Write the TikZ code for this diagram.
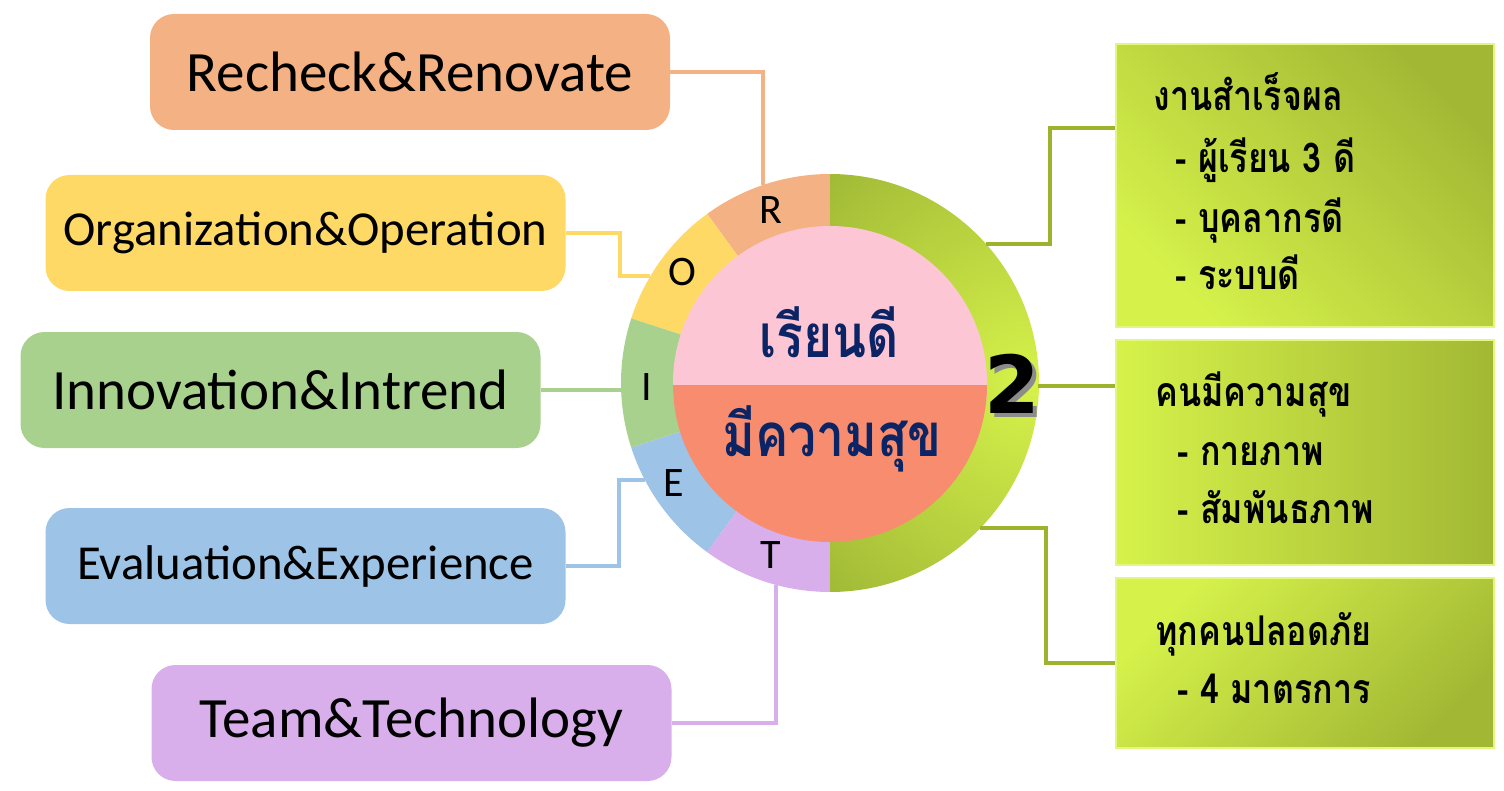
\documentclass[tikz,border=0pt]{standalone}
\usepackage{fontspec}
\usepackage{pdfrender}
\setmainfont{Carlito}
\newfontfamily\thai[Script=Thai, FakeStretch=0.83]{Loma}
\newfontfamily\numfont{DejaVu Sans}
\usetikzlibrary{calc}
\definecolor{cR}{HTML}{F4B183}
\definecolor{cO}{HTML}{FFD966}
\definecolor{cI}{HTML}{A9D18E}
\definecolor{cE}{HTML}{9DC3E6}
\definecolor{cT}{HTML}{D8AFEB}
\definecolor{cPink}{HTML}{FDC6D4}
\definecolor{cSalmon}{HTML}{F78D6E}
\definecolor{cNavy}{HTML}{0B2465}
\definecolor{cOlive}{HTML}{7B9129}
\definecolor{cLime}{HTML}{D6F24A}
\definecolor{cBoxOlive}{HTML}{A2B834}
\definecolor{cLine}{HTML}{9BB32D}
\begin{document}
\begin{tikzpicture}[x=0.5pt,y=-0.5pt,
  lbox/.style={rounded corners=12pt, minimum width=260pt, minimum height=58pt, inner sep=0pt, text=black},
  bigtxt/.style={font=\fontsize{28.5}{30}\selectfont},
  midtxt/.style={font=\fontsize{24.4}{26}\selectfont},
  ringletter/.style={font=\fontsize{21}{22}\selectfont, inner sep=0pt},
  rbox/.style={minimum width=189pt, inner sep=0pt, draw=cLime!70!white, line width=0.6pt},
  rtxt/.style={font=\thai\bfseries\fontsize{20.5}{22}\selectfont, anchor=base west, inner sep=0pt},
  ctxt/.style={font=\thai\bfseries\fontsize{30}{32}\selectfont, text=cNavy, inner sep=0pt},
  twofont/.style={font=\numfont\bfseries\fontsize{40}{42}\selectfont, inner sep=0pt},
  lconn/.style={line width=1.6pt},
  rconn/.style={draw=cLine, line width=1.7pt}
]
\useasboundingbox (0,0) rectangle (1504,791);
\coordinate (c) at (830,383);

% left boxes
\node[lbox, fill=cR, bigtxt] (bR) at (410,72) {Recheck\&Renovate};
\node[lbox, fill=cO, midtxt] (bO) at (305.5,233) {Organization\&Operation};
\node[lbox, fill=cI, bigtxt] (bI) at (280.5,390) {Innovation\&Intrend};
\node[lbox, fill=cE, midtxt] (bE) at (305.5,566) {Evaluation\&Experience};
\node[lbox, fill=cT, bigtxt] (bT) at (411.5,723) {Team\&Technology};

% ring segments (angles in flipped system)
\fill[cR] (c) -- ++(-90:209) arc[start angle=-90, end angle=-126, radius=209] -- cycle;
\fill[cO] (c) -- ++(-126:209) arc[start angle=-126, end angle=-162, radius=209] -- cycle;
\fill[cI] (c) -- ++(-162:209) arc[start angle=-162, end angle=-198, radius=209] -- cycle;
\fill[cE] (c) -- ++(-198:209) arc[start angle=-198, end angle=-234, radius=209] -- cycle;
\fill[cT] (c) -- ++(-234:209) arc[start angle=-234, end angle=-270, radius=209] -- cycle;
\begin{scope}
  \clip (c) -- ++(-90:209) arc[start angle=-90, end angle=90, radius=209] -- cycle;
  \shade[inner color=cLime, outer color=cOlive] (1030,383) circle (500);
\end{scope}

% inner circle
\fill[cPink] (c) circle (157);
\fill[cSalmon] ($(c)+(157,2)$) arc[start angle=0, end angle=180, radius=157] -- cycle;

% ring letters
\node[ringletter] (lR) at (771,210) {R};
\node[ringletter] (lO) at (682,272) {O};
\node[ringletter] (lI) at (647,387) {I};
\node[ringletter] (lE) at (674,483) {E};
\node[ringletter] (lT) at (771,555) {T};

% center text
\node[ctxt] (tTop) at (829,332) {เรียนดี};
\node[ctxt] (tBot) at (832,439) {มีความสุข};

% the "2" with shadow and white outline
\node[twofont, text=black!45] (n2s) at (1016,388) {2};
\node[twofont, text=black] (n2) at (1012,384) {\textpdfrender{TextRenderingMode=FillStroke, LineWidth=1.2pt, StrokeColor=white, FillColor=black}{2}};

% ring anchor points
\coordinate (rR) at (763,185);
\coordinate (rO) at (650,276);
\coordinate (rI) at (621,390);
\coordinate (rE) at (645,480);
\coordinate (rT) at (776,585);
\coordinate (rA) at (986,244);
\coordinate (rB) at (1038,386);
\coordinate (rC) at (980,528);

% left connectors
\draw[lconn, cR] (bR.east) -| (rR);
\draw[lconn, cO] (bO.east) -| ($(rO)+(-30,0)$) -- (rO);
\draw[lconn, cI] (bI.east) -- (rI);
\draw[lconn, cE] (bE.east) -| ($(rE)+(-26,0)$) -- (rE);
\draw[lconn, cT] (bT.east) -| (rT);

% right boxes
\node[rbox, minimum height=141.5pt, shade, shading=axis, top color=cBoxOlive, bottom color=cLime, shading angle=-45] (b1) at (1305,185.5) {};
\node[rbox, minimum height=112.5pt, shade, shading=axis, left color=cLime, right color=cBoxOlive] (b2) at (1305,452.5) {};
\node[rbox, minimum height=85pt, shade, shading=axis, top color=cLime, bottom color=cBoxOlive, shading angle=45] (b3) at (1305,663) {};

% right connectors
\draw[rconn] (rA) -- ++(64,0) |- ($(b1.north west)!0.298!(b1.south west)$);
\draw[rconn] (rB) -- (rB -| b2.west);
\draw[rconn] (rC) -- ++(66,0) |- (b3.west);

% right texts
\node[rtxt] (t11) at (1153,111) {งานสำเร็จผล};
\node[rtxt] (t12) at (1175,173) {- ผู้เรียน 3 ดี};
\node[rtxt] (t13) at (1175,233) {- บุคลากรดี};
\node[rtxt] (t14) at (1175,290) {- ระบบดี};
\node[rtxt] (t21) at (1155,406) {คนมีความสุข};
\node[rtxt] (t22) at (1177,465) {- กายภาพ};
\node[rtxt] (t23) at (1177,523) {- สัมพันธภาพ};
\node[rtxt] (t31) at (1155,645) {ทุกคนปลอดภัย};
\node[rtxt] (t32) at (1177,703) {- 4 มาตรการ};
\end{tikzpicture}
\end{document}
